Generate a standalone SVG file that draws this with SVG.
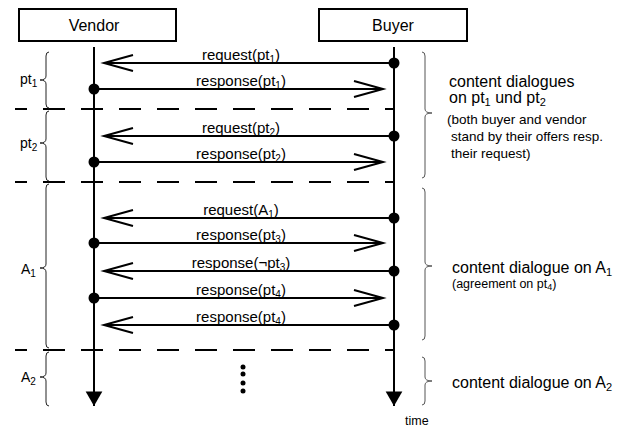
<svg xmlns="http://www.w3.org/2000/svg" width="635" height="428" viewBox="0 0 635 428">
<style>
text{font-family:"Liberation Sans",Arial,sans-serif;fill:#000}
.box{fill:#fff;stroke:#000;stroke-width:2}
.hd{font-size:16px;text-anchor:middle}
.life{stroke:#000;stroke-width:2;fill:none}
.msg{stroke:#000;stroke-width:2;fill:none}
.lbl{font-size:15px;text-anchor:middle}
.dash{stroke:#000;stroke-width:2;stroke-dasharray:22 16;stroke-dashoffset:10;fill:none}
.br{stroke:#222;stroke-width:1;fill:none}
.rbr{stroke:#555;stroke-width:1;fill:none}
.big{font-size:16px}
.sm{font-size:13.5px}
.lft{font-size:14px}
</style>
<defs>
<marker id="open" markerUnits="userSpaceOnUse" markerWidth="40" markerHeight="24" viewBox="-32 -12 34 24" refX="0" refY="0" orient="auto" overflow="visible">
<path d="M-29,-8 L0,0 L-29,8" fill="none" stroke="#000" stroke-width="2"/>
</marker>
<marker id="fill" markerUnits="userSpaceOnUse" markerWidth="20" markerHeight="20" viewBox="-14 -9 16 18" refX="0" refY="0" orient="auto" overflow="visible">
<path d="M-13,-7.5 L0,0 L-13,7.5 Z" fill="#000"/>
</marker>
</defs>

<g id="vendor">
<rect class="box" x="19" y="9" width="157" height="32"/>
<text class="hd" x="94" y="31">Vendor</text>
</g>
<g id="buyer">
<rect class="box" x="319" y="9" width="148" height="32"/>
<text class="hd" x="393" y="31">Buyer</text>
</g>

<g id="connectors">
<line class="life" x1="94" y1="47" x2="94" y2="406" marker-end="url(#fill)"/>
<line class="life" x1="394" y1="47" x2="394" y2="406" marker-end="url(#fill)"/>

<line class="msg" x1="394" y1="63" x2="104" y2="63" marker-end="url(#open)"/>
<line class="msg" x1="94" y1="89" x2="383" y2="89" marker-end="url(#open)"/>
<line class="msg" x1="394" y1="136" x2="104" y2="136" marker-end="url(#open)"/>
<line class="msg" x1="94" y1="162" x2="383" y2="162" marker-end="url(#open)"/>
<line class="msg" x1="394" y1="218" x2="104" y2="218" marker-end="url(#open)"/>
<line class="msg" x1="94" y1="243" x2="383" y2="243" marker-end="url(#open)"/>
<line class="msg" x1="394" y1="271" x2="104" y2="271" marker-end="url(#open)"/>
<line class="msg" x1="94" y1="298" x2="383" y2="298" marker-end="url(#open)"/>
<line class="msg" x1="394" y1="325" x2="104" y2="325" marker-end="url(#open)"/>

<circle cx="394" cy="63" r="5.5"/>
<circle cx="94" cy="89" r="5.5"/>
<circle cx="394" cy="136" r="5.5"/>
<circle cx="94" cy="162" r="5.5"/>
<circle cx="394" cy="218" r="5.5"/>
<circle cx="94" cy="243" r="5.5"/>
<circle cx="394" cy="271" r="5.5"/>
<circle cx="94" cy="298" r="5.5"/>
<circle cx="394" cy="325" r="5.5"/>

<line class="dash" x1="15" y1="109" x2="394" y2="109"/>
<line class="dash" x1="15" y1="182" x2="394" y2="182"/>
<line class="dash" x1="15" y1="350" x2="394" y2="350"/>
</g>

<g id="labels">
<text class="lbl" x="241" y="60">request(pt<tspan font-size="10" dy="3">1</tspan><tspan dy="-3">)</tspan></text>
<text class="lbl" x="241" y="86">response(pt<tspan font-size="10" dy="3">1</tspan><tspan dy="-3">)</tspan></text>
<text class="lbl" x="241" y="133">request(pt<tspan font-size="10" dy="3">2</tspan><tspan dy="-3">)</tspan></text>
<text class="lbl" x="241" y="159">response(pt<tspan font-size="10" dy="3">2</tspan><tspan dy="-3">)</tspan></text>
<text class="lbl" x="241" y="215">request(A<tspan font-size="10" dy="3">1</tspan><tspan dy="-3">)</tspan></text>
<text class="lbl" x="241" y="240">response(pt<tspan font-size="10" dy="3">3</tspan><tspan dy="-3">)</tspan></text>
<text class="lbl" x="241" y="268">response(¬pt<tspan font-size="10" dy="3">3</tspan><tspan dy="-3">)</tspan></text>
<text class="lbl" x="241" y="295">response(pt<tspan font-size="10" dy="3">4</tspan><tspan dy="-3">)</tspan></text>
<text class="lbl" x="241" y="322">response(pt<tspan font-size="10" dy="3">4</tspan><tspan dy="-3">)</tspan></text>
</g>

<g id="phase-pt1">
<path class="br" d="M49,52 Q46,52 46,56 L46,76 Q46,80 40,80 Q46,80 46,84 L46,104 Q46,108 49,108"/>
<text class="lft" x="20" y="84">pt<tspan font-size="10" dy="3">1</tspan></text>
</g>
<g id="phase-pt2">
<path class="br" d="M49,111 Q46,111 46,115 L46,139 Q46,143 40,143 Q46,143 46,147 L46,177 Q46,181 49,181"/>
<text class="lft" x="20" y="148">pt<tspan font-size="10" dy="3">2</tspan></text>
</g>
<g id="phase-A1">
<path class="br" d="M49,184 Q46,184 46,188 L46,264 Q46,268 40,268 Q46,268 46,272 L46,344 Q46,348 49,348"/>
<text class="lft" x="21" y="274">A<tspan font-size="10" dy="3">1</tspan></text>
</g>
<g id="phase-A2">
<path class="br" d="M49,352 Q46,352 46,356 L46,373 Q46,377 40,377 Q46,377 46,381 L46,402 Q46,406 49,406"/>
<text class="lft" x="21" y="382">A<tspan font-size="10" dy="3">2</tspan></text>
</g>

<g id="note-pt">
<path class="rbr" d="M422,52 Q425,52 425,56 L425,109 Q425,113 432,113 Q425,113 425,117 L425,174 Q425,178 422,178"/>
<text class="big" x="449" y="87">content dialogues</text>
<text class="big" x="449" y="103">on pt<tspan font-size="11" dy="3">1</tspan><tspan dy="-3"> und pt</tspan><tspan font-size="11" dy="3">2</tspan></text>
<text class="sm" x="447" y="124">(both buyer and vendor</text>
<text class="sm" x="451" y="141">stand by their offers resp.</text>
<text class="sm" x="451" y="158">their request)</text>
</g>
<g id="note-A1">
<path class="rbr" d="M422,188 Q425,188 425,192 L425,262 Q425,266 432,266 Q425,266 425,270 L425,336 Q425,340 422,340"/>
<text class="big" x="452" y="273">content dialogue on A<tspan font-size="11" dy="3">1</tspan></text>
<text font-size="12.5" x="452" y="288">(agreement on pt<tspan font-size="9" dy="2">4</tspan><tspan dy="-2">)</tspan></text>
</g>
<g id="note-A2">
<path class="rbr" d="M422,357 Q425,357 425,361 L425,377 Q425,381 432,381 Q425,381 425,385 L425,401 Q425,405 422,405"/>
<text class="big" x="452" y="388">content dialogue on A<tspan font-size="11" dy="3">2</tspan></text>
</g>

<g id="ellipsis">
<circle cx="243" cy="367" r="2.5"/>
<circle cx="243" cy="374" r="2.5"/>
<circle cx="243" cy="383" r="2.5"/>
<circle cx="243" cy="391" r="2.5"/>
</g>
<text font-size="12.5" x="405" y="425">time</text>
</svg>
